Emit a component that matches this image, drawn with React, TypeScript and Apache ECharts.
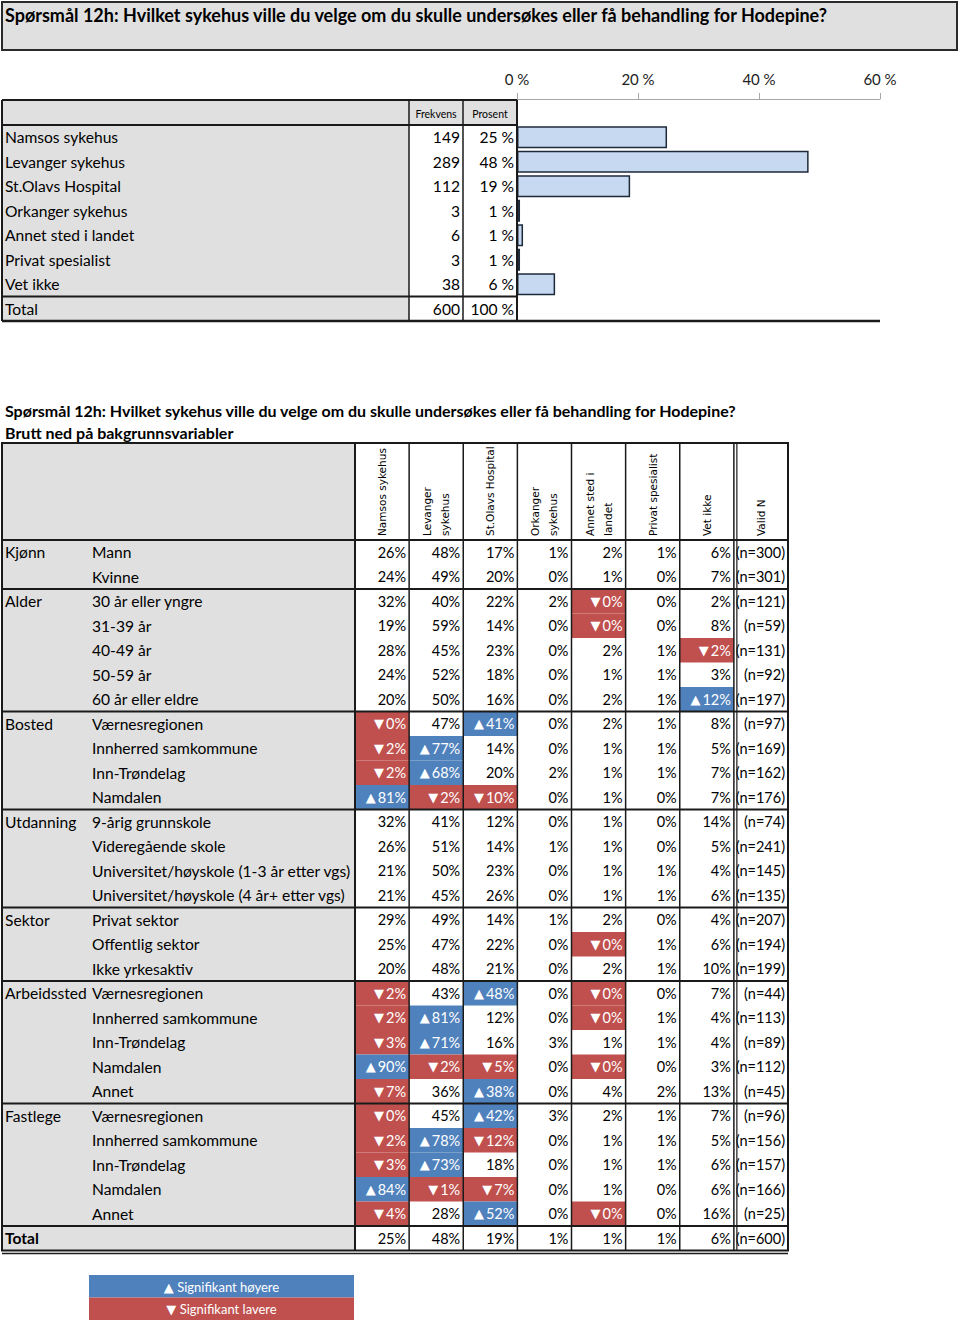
import React, { useEffect, useRef } from 'react';
import * as echarts from 'echarts';

const TITLE = 'Spørsmål 12h: Hvilket sykehus ville du velge om du skulle undersøkes eller få behandling for Hodepine?';
const SUBTITLE = 'Brutt ned på bakgrunnsvariabler';

// ---- top frequency table / bar chart ----
const answerLabels = ['Namsos sykehus', 'Levanger sykehus', 'St.Olavs Hospital', 'Orkanger sykehus', 'Annet sted i landet', 'Privat spesialist', 'Vet ikke', 'Total'];
const frequencies = [149, 289, 112, 3, 6, 3, 38, 600];
const percentLabels = [25, 48, 19, 1, 1, 1, 6, 100];
const barValues = [24.8, 48.2, 18.7, 0.5, 1.0, 0.5, 6.3];
const axisMin = 0;
const axisMax = 60;
const axisInterval = 20;

// ---- cross table ----
const columnHeaders = [['Namsos sykehus'], ['Levanger', 'sykehus'], ['St.Olavs Hospital'], ['Orkanger', 'sykehus'], ['Annet sted i', 'landet'], ['Privat spesialist'], ['Vet ikke'], ['Valid N']];
const groupNames = ['Kjønn', 'Alder', 'Bosted', 'Utdanning', 'Sektor', 'Arbeidssted', 'Fastlege', 'Total'];
const groupSizes = [2, 5, 4, 4, 3, 5, 5, 1];
const subLabels = [
  'Mann', 'Kvinne',
  '30 år eller yngre', '31-39 år', '40-49 år', '50-59 år', '60 år eller eldre',
  'Værnesregionen', 'Innherred samkommune', 'Inn-Trøndelag', 'Namdalen',
  '9-årig grunnskole', 'Videregående skole', 'Universitet/høyskole (1-3 år etter vgs)', 'Universitet/høyskole (4 år+ etter vgs)',
  'Privat sektor', 'Offentlig sektor', 'Ikke yrkesaktiv',
  'Værnesregionen', 'Innherred samkommune', 'Inn-Trøndelag', 'Namdalen', 'Annet',
  'Værnesregionen', 'Innherred samkommune', 'Inn-Trøndelag', 'Namdalen', 'Annet',
  '',
];
const crossValues = [
  [26, 48, 17, 1, 2, 1, 6],
  [24, 49, 20, 0, 1, 0, 7],
  [32, 40, 22, 2, 0, 0, 2],
  [19, 59, 14, 0, 0, 0, 8],
  [28, 45, 23, 0, 2, 1, 2],
  [24, 52, 18, 0, 1, 1, 3],
  [20, 50, 16, 0, 2, 1, 12],
  [0, 47, 41, 0, 2, 1, 8],
  [2, 77, 14, 0, 1, 1, 5],
  [2, 68, 20, 2, 1, 1, 7],
  [81, 2, 10, 0, 1, 0, 7],
  [32, 41, 12, 0, 1, 0, 14],
  [26, 51, 14, 1, 1, 0, 5],
  [21, 50, 23, 0, 1, 1, 4],
  [21, 45, 26, 0, 1, 1, 6],
  [29, 49, 14, 1, 2, 0, 4],
  [25, 47, 22, 0, 0, 1, 6],
  [20, 48, 21, 0, 2, 1, 10],
  [2, 43, 48, 0, 0, 0, 7],
  [2, 81, 12, 0, 0, 1, 4],
  [3, 71, 16, 3, 1, 1, 4],
  [90, 2, 5, 0, 0, 0, 3],
  [7, 36, 38, 0, 4, 2, 13],
  [0, 45, 42, 3, 2, 1, 7],
  [2, 78, 12, 0, 1, 1, 5],
  [3, 73, 18, 0, 1, 1, 6],
  [84, 1, 7, 0, 1, 0, 6],
  [4, 28, 52, 0, 0, 0, 16],
  [25, 48, 19, 1, 1, 1, 6],
];
const validN = [300, 301, 121, 59, 131, 92, 197, 97, 169, 162, 176, 74, 241, 145, 135, 207, 194, 199, 44, 113, 89, 112, 45, 96, 156, 157, 166, 25, 600];
// '+' significantly higher, '-' significantly lower, '.' not significant
const significance = [
  '.......', '.......',
  '....-..', '....-..', '......-', '.......', '......+',
  '-.+....', '-+.....', '-+.....', '+--....',
  '.......', '.......', '.......', '.......',
  '.......', '....-..', '.......',
  '-.+.-..', '-+..-..', '-+.....', '+--.-..', '-.+....',
  '-.+....', '-+-....', '-+.....', '+--....', '-.+.-..',
  '.......',
];
const legendItems = ['▲ Signifikant høyere', '▼ Signifikant lavere'];

// ---- styles / layout ----
const GRAY = '#e0e0e0';
const BLUE = '#4f81bd';
const RED = '#c0504d';
const LINE = '#1a1a1a';
const FONT = 'Lato, "DejaVu Sans", sans-serif';
const HFONT = '"DejaVu Sans", Verdana, sans-serif';
const TRI_FONT = '"DejaVu Sans", sans-serif';
const LABEL_SIZE = 15.6;

const TOP_TABLE_Y = 100;
const TOP_HEADER_H = 25;
const ROW_H = 24.5;
const TOP_ROWS_Y = TOP_TABLE_Y + TOP_HEADER_H;
const TOP_BOTTOM = TOP_ROWS_Y + ROW_H * answerLabels.length;
const COL_FREQ = 409;
const COL_PCT = 463;
const COL_BAR = 517;
const BAR_RIGHT = 880;

const X_HEAD_TOP = 443;
const X_DATA_TOP = 540;
const X_LABEL_END = 355;
const X_RIGHT = 788;
const COL_W = (X_RIGHT - X_LABEL_END) / 8;
const X_BOTTOM = X_DATA_TOP + ROW_H * crossValues.length;

function buildOption() {
  const graphic: any[] = [];
  const line = (x1: number, y1: number, x2: number, y2: number, w = 1.5, color = LINE) =>
    graphic.push({ type: 'line', z: 20, shape: { x1, y1, x2, y2 }, style: { stroke: color, lineWidth: w } });
  const rect = (x: number, y: number, width: number, height: number, fill: string, z = 0) =>
    graphic.push({ type: 'rect', z, shape: { x, y, width, height }, style: { fill } });
  const text = (t: string, x: number, y: number, o: any = {}) =>
    graphic.push({
      type: 'text', z: 30, x, y, rotation: o.rotation || 0,
      style: {
        text: t, x: 0, y: 0, fill: o.fill || '#000', fontSize: o.size || 15, fontFamily: o.family || FONT,
        fontWeight: o.weight || 'normal', align: o.align || 'left', verticalAlign: 'middle',
      },
    });

  // title box
  rect(2, 2, 955, 48, GRAY);
  graphic.push({ type: 'rect', z: 20, shape: { x: 2, y: 2, width: 955, height: 48 }, style: { fill: 'none', stroke: '#2a2a2a', lineWidth: 2 } });
  text(TITLE, 5, 15, { weight: 'bold', size: 18 });

  // top table
  rect(2, TOP_TABLE_Y, COL_BAR - 2, TOP_HEADER_H, GRAY);
  rect(2, TOP_ROWS_Y, COL_FREQ - 2, TOP_BOTTOM - TOP_ROWS_Y, GRAY);
  text('Frekvens', (COL_FREQ + COL_PCT) / 2, TOP_TABLE_Y + 14, { size: 10.5, align: 'center' });
  text('Prosent', (COL_PCT + COL_BAR) / 2, TOP_TABLE_Y + 14, { size: 10.5, align: 'center' });
  line(2, TOP_TABLE_Y, COL_BAR, TOP_TABLE_Y, 2);
  line(2, TOP_TABLE_Y, 2, TOP_BOTTOM, 2);
  line(COL_BAR, TOP_TABLE_Y, COL_BAR, TOP_BOTTOM, 2);
  line(COL_FREQ, TOP_TABLE_Y, COL_FREQ, TOP_BOTTOM, 1.5);
  line(COL_PCT, TOP_TABLE_Y, COL_PCT, TOP_BOTTOM, 1.5);
  line(2, TOP_ROWS_Y, COL_BAR, TOP_ROWS_Y, 2);
  line(2, TOP_BOTTOM - ROW_H, COL_BAR, TOP_BOTTOM - ROW_H, 2);
  line(2, TOP_BOTTOM, BAR_RIGHT, TOP_BOTTOM, 2.5);

  // section 2 title
  text(TITLE, 5, 410, { weight: 'bold', size: 16 });
  text(SUBTITLE, 5, 432, { weight: 'bold', size: 16 });

  // cross table frame
  rect(2, X_HEAD_TOP, X_LABEL_END - 2, X_BOTTOM - X_HEAD_TOP, GRAY);
  graphic.push({ type: 'rect', z: 20, shape: { x: 2, y: X_HEAD_TOP, width: X_RIGHT - 2, height: X_BOTTOM - X_HEAD_TOP }, style: { fill: 'none', stroke: LINE, lineWidth: 2 } });
  line(2, X_DATA_TOP, X_RIGHT, X_DATA_TOP, 2);
  line(X_LABEL_END, X_HEAD_TOP, X_LABEL_END, X_BOTTOM, 2);
  for (let c = 1; c < 8; c++) {
    const x = X_LABEL_END + COL_W * c;
    line(x, X_HEAD_TOP, x, X_BOTTOM, 1.5);
  }
  line(X_LABEL_END + COL_W * 7 + 3, X_HEAD_TOP, X_LABEL_END + COL_W * 7 + 3, X_BOTTOM, 1.2);
  let acc = 0;
  groupSizes.forEach((n, gi) => {
    if (gi > 0) line(2, X_DATA_TOP + ROW_H * acc, X_RIGHT, X_DATA_TOP + ROW_H * acc, 2);
    acc += n;
  });
  line(2, X_BOTTOM + 3, X_RIGHT, X_BOTTOM + 3, 1.5);

  // rotated headers
  columnHeaders.forEach((lines, c) => {
    const cx = X_LABEL_END + COL_W * (c + 0.5);
    const offs = lines.length === 1 ? [0] : [-9, 9];
    lines.forEach((t, i) => text(t, cx + offs[i], X_DATA_TOP - 4, { rotation: Math.PI / 2, size: 10.5, family: HFONT }));
  });

  // legend
  rect(89, 1275, 265, 22.5, BLUE, 5);
  rect(89, 1297.5, 265, 22.5, RED, 5);
  text(legendItems[0], 221.5, 1287, { fill: '#fff', size: 13, align: 'center' });
  text(legendItems[1], 221.5, 1309, { fill: '#fff', size: 13, align: 'center' });

  // data for custom series
  const cellData: any[] = [];
  crossValues.forEach((row, r) => {
    row.forEach((v, c) => {
      const s = significance[r][c];
      cellData.push([c, r, v, s === '+' ? 1 : s === '-' ? -1 : 0]);
    });
    cellData.push([7, r, validN[r], 0]);
  });

  const groupStart: Record<number, string> = {};
  acc = 0;
  groupSizes.forEach((n, gi) => { groupStart[acc] = groupNames[gi]; acc += n; });

  return {
    animation: false,
    backgroundColor: '#ffffff',
    graphic: { elements: graphic },
    grid: [
      { left: COL_BAR, top: TOP_ROWS_Y, width: BAR_RIGHT - COL_BAR, height: TOP_BOTTOM - TOP_ROWS_Y, containLabel: false },
      { left: X_LABEL_END, top: X_DATA_TOP, width: X_RIGHT - X_LABEL_END, height: X_BOTTOM - X_DATA_TOP, containLabel: false },
    ],
    xAxis: [
      {
        gridIndex: 0, type: 'value', min: axisMin, max: axisMax, interval: axisInterval, position: 'top', offset: 26,
        axisLine: { show: true, lineStyle: { color: '#a6a6a6', width: 1 } },
        axisTick: { show: true, length: 6, lineStyle: { color: '#a6a6a6' } },
        axisLabel: { formatter: '{value} %', fontSize: 15, color: '#222', margin: 13, fontFamily: FONT },
        splitLine: { show: false },
      },
      { gridIndex: 1, type: 'category', data: columnHeaders.map((h) => h.join(' ')), show: false },
    ],
    yAxis: [
      { gridIndex: 0, type: 'category', inverse: true, data: answerLabels, show: false },
      { gridIndex: 1, type: 'category', inverse: true, data: crossValues.map((_, i) => String(i)), show: false },
    ],
    series: [
      {
        type: 'bar', xAxisIndex: 0, yAxisIndex: 0, data: barValues, barCategoryGap: '10%',
        itemStyle: { color: '#c6d9f1', borderColor: '#1e2a3a', borderWidth: 1.5 },
      },
      {
        type: 'custom', xAxisIndex: 0, yAxisIndex: 0, clip: false,
        data: answerLabels.map((_, i) => [0, i]),
        renderItem: (params: any, api: any) => {
          const i = api.value(1);
          const y = api.coord([0, i])[1];
          const st = { fill: '#000', fontSize: LABEL_SIZE, fontFamily: FONT, verticalAlign: 'middle' };
          return {
            type: 'group',
            children: [
              { type: 'text', style: { ...st, text: answerLabels[i], x: 5, y, align: 'left' } },
              { type: 'text', style: { ...st, text: String(frequencies[i]), x: COL_PCT - 3, y, align: 'right' } },
              { type: 'text', style: { ...st, text: percentLabels[i] + ' %', x: COL_BAR - 3, y, align: 'right' } },
            ],
          };
        },
      },
      {
        type: 'custom', xAxisIndex: 1, yAxisIndex: 1, clip: false,
        data: crossValues.map((_, i) => [0, i]),
        renderItem: (params: any, api: any) => {
          const r = api.value(1);
          const y = api.coord([0, r])[1];
          const children: any[] = [];
          const st = { fill: '#000', fontSize: LABEL_SIZE, fontFamily: FONT, verticalAlign: 'middle', align: 'left' };
          if (groupStart[r] !== undefined) {
            const isTotal = groupStart[r] === 'Total';
            children.push({ type: 'text', style: { ...st, text: groupStart[r], x: 5, y, fontWeight: isTotal ? 'bold' : 'normal' } });
          }
          if (subLabels[r]) children.push({ type: 'text', style: { ...st, text: subLabels[r], x: 92, y } });
          return { type: 'group', children };
        },
      },
      {
        type: 'custom', xAxisIndex: 1, yAxisIndex: 1, clip: false,
        data: cellData,
        renderItem: (params: any, api: any) => {
          const c = api.value(0);
          const r = api.value(1);
          const v = api.value(2);
          const sig = api.value(3);
          const pt = api.coord([c, r]);
          const size = api.size([1, 1]);
          const x0 = pt[0] - size[0] / 2;
          const y0 = pt[1] - size[1] / 2;
          const children: any[] = [];
          if (sig !== 0) {
            children.push({ type: 'rect', shape: { x: x0, y: y0, width: size[0], height: size[1] }, style: { fill: sig > 0 ? BLUE : RED } });
          }
          const right = x0 + size[0] - 3;
          if (sig === 0) {
            const label = c === 7 ? `(n=${v})` : `${v}%`;
            children.push({
              type: 'text',
              style: { text: label, x: right, y: pt[1], align: 'right', verticalAlign: 'middle', fill: '#000', fontSize: 14.5, fontFamily: FONT },
            });
          } else {
            children.push({
              type: 'text',
              style: {
                text: `{t|${sig > 0 ? '▲' : '▼'}}{n|${v}%}`,
                x: right, y: pt[1], align: 'right', verticalAlign: 'middle', fill: '#fff',
                rich: {
                  t: { fill: '#fff', color: '#fff', fontSize: 13, fontFamily: TRI_FONT, padding: [0, 2, 0, 0] },
                  n: { fill: '#fff', color: '#fff', fontSize: 14.5, fontFamily: FONT },
                },
              },
            });
          }
          return { type: 'group', children };
        },
      },
    ],
  };
}

export default function App() {
  const ref = useRef<HTMLDivElement>(null);
  useEffect(() => {
    if (!ref.current) return;
    const chart = echarts.init(ref.current, undefined, { renderer: 'svg' });
    chart.setOption(buildOption() as any);
    return () => chart.dispose();
  }, []);
  return <div ref={ref} style={{ position: 'absolute', left: 0, top: 0, width: 960, height: 1326 }} />;
}
